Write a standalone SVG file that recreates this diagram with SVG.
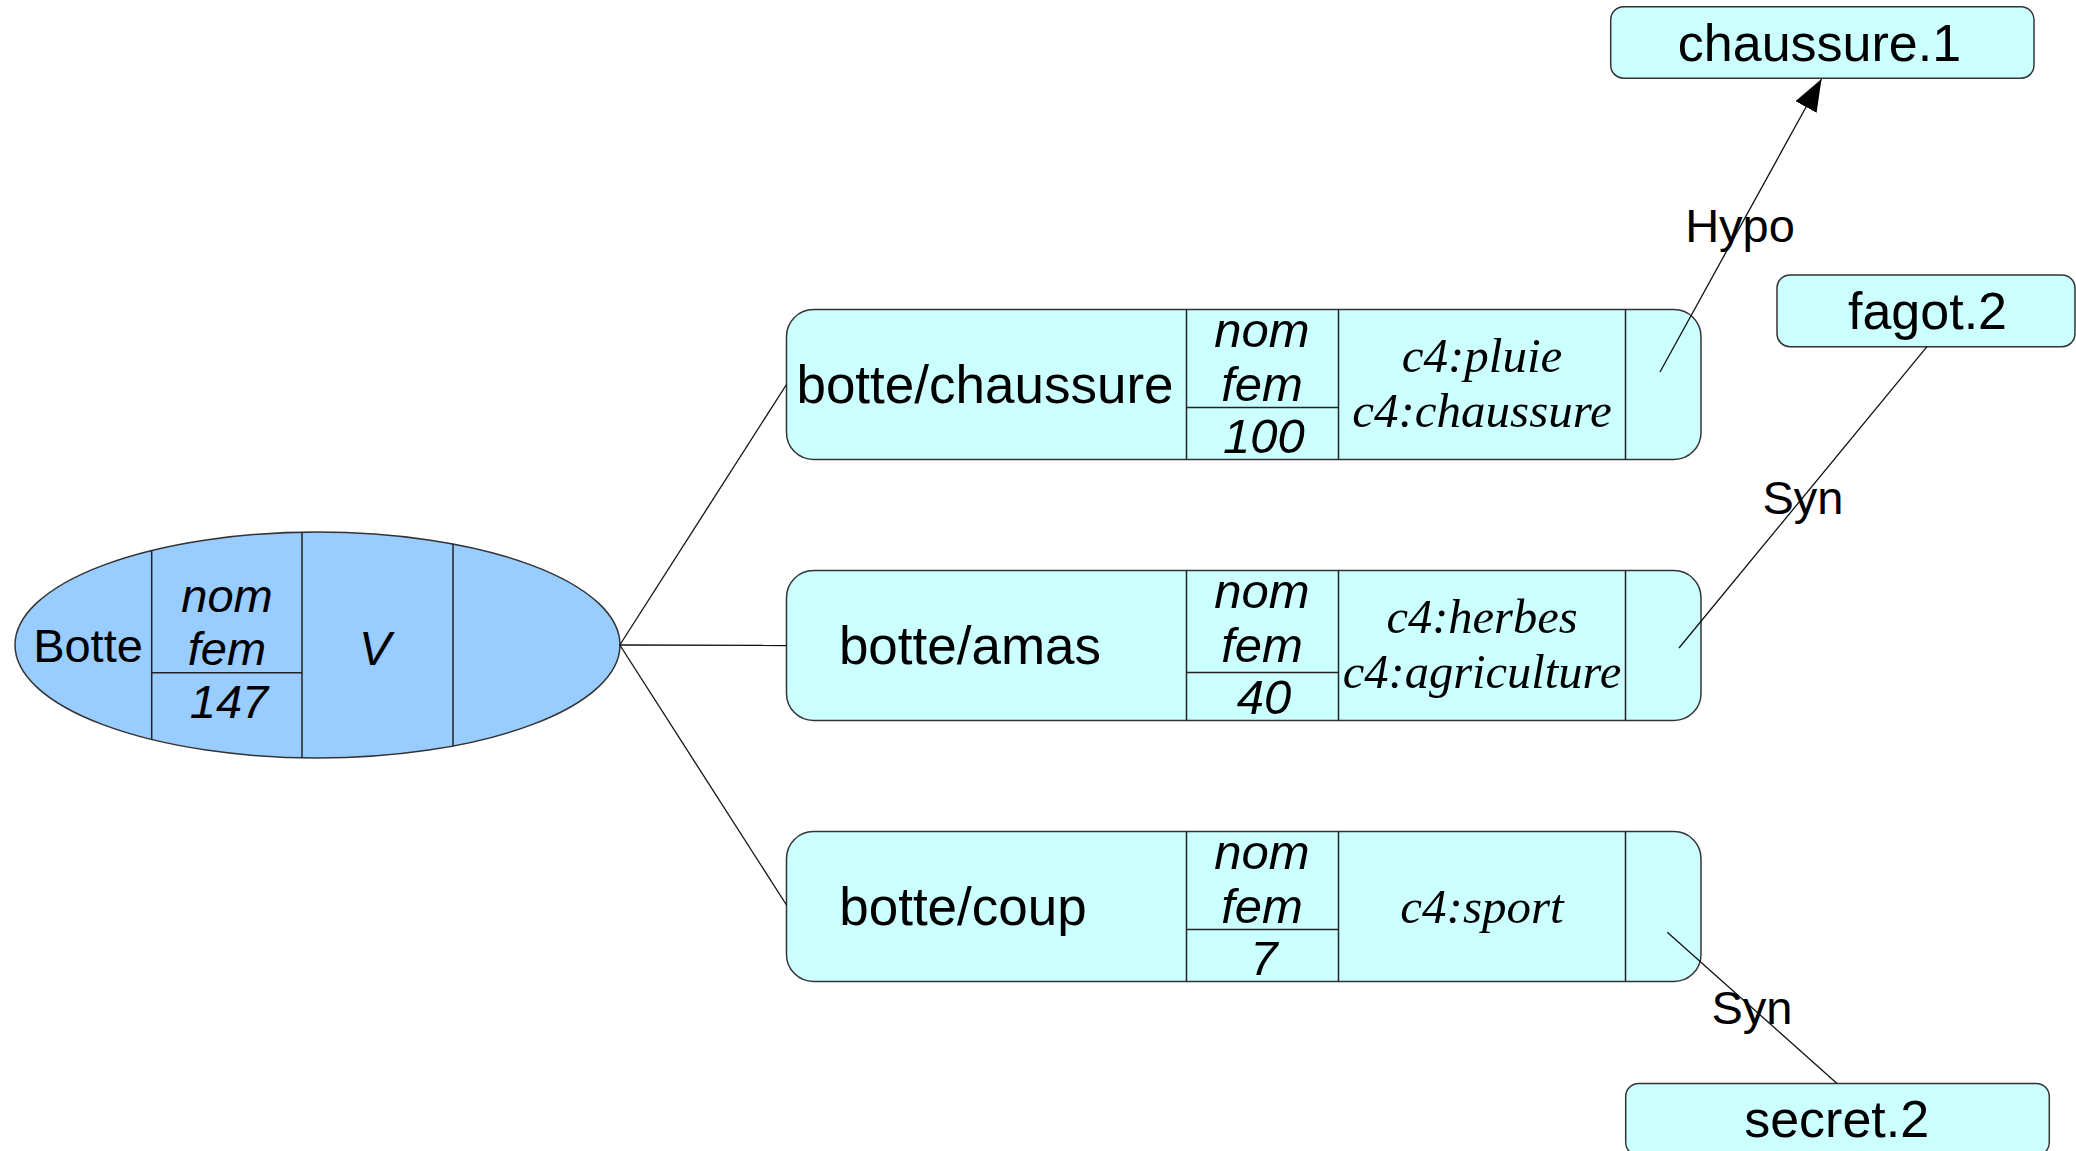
<svg xmlns="http://www.w3.org/2000/svg" width="2076" height="1151" viewBox="0 0 2076 1151">
<defs>
<style>
.bg{fill:#ffffff}
.ell{fill:#99ccff;stroke:#333333;stroke-width:1.5}
.box{fill:#ccffff;stroke:#333333;stroke-width:1.5}
.div{stroke:#222222;stroke-width:1.5;fill:none}
.con{stroke:#111111;stroke-width:1.3;fill:none}
.lab{font-family:"Liberation Sans",Arial,sans-serif;fill:#000000;text-anchor:middle}
.it{font-family:"Liberation Sans",Arial,sans-serif;font-style:italic;fill:#000000;text-anchor:middle}
.ser{font-family:"Liberation Serif","Times New Roman",serif;font-style:italic;fill:#000000;text-anchor:middle}
</style>
<marker id="arrow" markerUnits="userSpaceOnUse" markerWidth="34" markerHeight="26" refX="32" refY="12" orient="auto">
<path d="M0,0 L32,12 L0,24 Z" fill="#000000"/>
</marker>
<clipPath id="ellclip"><ellipse cx="317.5" cy="645" rx="302.5" ry="113"/></clipPath>
</defs>
<rect class="bg" x="0" y="0" width="2076" height="1151"/>

<g id="node-botte">
<ellipse class="ell" cx="317.5" cy="645" rx="302.5" ry="113"/>
<g clip-path="url(#ellclip)">
<line class="div" x1="151.7" y1="520" x2="151.7" y2="770"/>
<line class="div" x1="302" y1="520" x2="302" y2="770"/>
<line class="div" x1="453" y1="520" x2="453" y2="770"/>
<line class="div" x1="151.7" y1="672.7" x2="302" y2="672.7"/>
</g>
<text class="lab" x="88" y="662" font-size="47">Botte</text>
<text class="it" x="227" y="612" font-size="47">nom</text>
<text class="it" x="227" y="665" font-size="47">fem</text>
<text class="it" x="229" y="718" font-size="47">147</text>
<text class="it" x="375" y="665" font-size="48">V</text>
</g>

<g id="node-botte-chaussure">
<rect class="box" x="786.5" y="309.5" width="914.5" height="150" rx="27" ry="27"/>
<line class="div" x1="1186.5" y1="309.5" x2="1186.5" y2="459.5"/>
<line class="div" x1="1338.5" y1="309.5" x2="1338.5" y2="459.5"/>
<line class="div" x1="1625.5" y1="309.5" x2="1625.5" y2="459.5"/>
<line class="div" x1="1186.5" y1="407.5" x2="1338.5" y2="407.5"/>
<text class="lab" x="985" y="403" font-size="53">botte/chaussure</text>
<text class="it" x="1262" y="347" font-size="49">nom</text>
<text class="it" x="1262" y="400.5" font-size="49">fem</text>
<text class="it" x="1264" y="453" font-size="49">100</text>
<text class="ser" x="1482" y="372" font-size="49">c4:pluie</text>
<text class="ser" x="1482" y="426.5" font-size="49">c4:chaussure</text>
</g>

<g id="node-botte-amas">
<rect class="box" x="786.5" y="570.5" width="914.5" height="150" rx="27" ry="27"/>
<line class="div" x1="1186.5" y1="570.5" x2="1186.5" y2="720.5"/>
<line class="div" x1="1338.5" y1="570.5" x2="1338.5" y2="720.5"/>
<line class="div" x1="1625.5" y1="570.5" x2="1625.5" y2="720.5"/>
<line class="div" x1="1186.5" y1="672.5" x2="1338.5" y2="672.5"/>
<text class="lab" x="970" y="664" font-size="53">botte/amas</text>
<text class="it" x="1262" y="608" font-size="49">nom</text>
<text class="it" x="1262" y="661.5" font-size="49">fem</text>
<text class="it" x="1264" y="714" font-size="49">40</text>
<text class="ser" x="1482" y="633" font-size="48.5">c4:herbes</text>
<text class="ser" x="1482" y="687.5" font-size="48.5">c4:agriculture</text>
</g>

<g id="node-botte-coup">
<rect class="box" x="786.5" y="831.5" width="914.5" height="150" rx="27" ry="27"/>
<line class="div" x1="1186.5" y1="831.5" x2="1186.5" y2="981.5"/>
<line class="div" x1="1338.5" y1="831.5" x2="1338.5" y2="981.5"/>
<line class="div" x1="1625.5" y1="831.5" x2="1625.5" y2="981.5"/>
<line class="div" x1="1186.5" y1="929.5" x2="1338.5" y2="929.5"/>
<text class="lab" x="963" y="925" font-size="53">botte/coup</text>
<text class="it" x="1262" y="869" font-size="49">nom</text>
<text class="it" x="1262" y="922.5" font-size="49">fem</text>
<text class="it" x="1264" y="975" font-size="49">7</text>
<text class="ser" x="1482" y="923" font-size="49">c4:sport</text>
</g>

<g id="node-chaussure-1">
<rect class="box" x="1610.7" y="6.7" width="423.3" height="71.5" rx="13" ry="13"/>
<text class="lab" x="1819.5" y="60.7" font-size="52">chaussure.1</text>
</g>

<g id="node-fagot-2">
<rect class="box" x="1777" y="275" width="298" height="71.7" rx="13" ry="13"/>
<text class="lab" x="1927.5" y="329" font-size="52">fagot.2</text>
</g>

<g id="node-secret-2">
<rect class="box" x="1625.7" y="1083.5" width="423.6" height="72" rx="13" ry="13"/>
<text class="lab" x="1836.7" y="1137" font-size="52">secret.2</text>
</g>

<g id="connectors">
<line class="con" x1="619.8" y1="645" x2="786.5" y2="384.5"/>
<line class="con" x1="619.8" y1="645" x2="786.5" y2="645.5"/>
<line class="con" x1="619.8" y1="645" x2="786.5" y2="905"/>
<line class="con" x1="1660" y1="372" x2="1821.5" y2="79" marker-end="url(#arrow)"/>
<line class="con" x1="1679" y1="648" x2="1927" y2="346.7"/>
<line class="con" x1="1667.3" y1="932.3" x2="1837" y2="1083.5"/>
<text class="lab" x="1740" y="242" font-size="47">Hypo</text>
<text class="lab" x="1803" y="513.5" font-size="47">Syn</text>
<text class="lab" x="1752" y="1024" font-size="47">Syn</text>
</g>
</svg>
